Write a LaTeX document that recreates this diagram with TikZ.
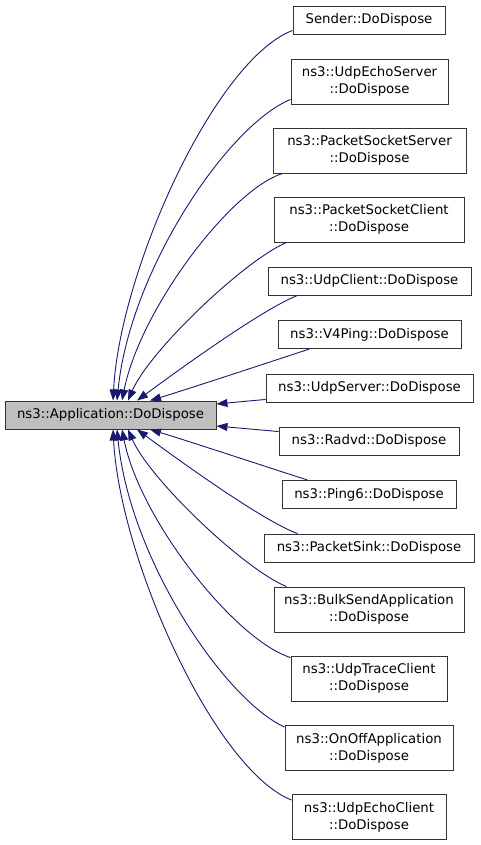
\documentclass[tikz,border=0pt]{standalone}
\usepackage{fontspec}
\setmainfont{DejaVu Sans}
\usetikzlibrary{arrows.meta}
\definecolor{edgeblue}{RGB}{25,25,112}
\definecolor{boxgray}{RGB}{191,191,191}

\begin{document}
\begin{tikzpicture}[x=1pt, y=-1pt,
  fn/.style={draw=black!80, line width=0.9pt, fill=white, inner sep=0pt, align=center, font=\fontsize{13.3}{17}\selectfont},
  one/.style={fn, minimum height=28pt},
  two/.style={fn, minimum height=45pt},
  edge/.style={draw=edgeblue, line width=0.9pt, -{Triangle[length=11pt, width=8pt]}}]
  \useasboundingbox (0,0) rectangle (480,845);

  %--- called function ---
  \node[one, fill=boxgray, minimum width=211pt] (app) at (110.5,415) {ns3::Application::DoDispose};

  %--- callers ---
  \node[one, minimum width=152pt] (sender) at (369,20) {Sender::DoDispose};
  \node[two, minimum width=157pt] (udpechoserver) at (369.5,81.5) {ns3::UdpEchoServer\\::DoDispose};
  \node[two, minimum width=193pt] (pss) at (369.5,150.5) {ns3::PacketSocketServer\\::DoDispose};
  \node[two, minimum width=190pt] (psc) at (369,219.5) {ns3::PacketSocketClient\\::DoDispose};
  \node[one, minimum width=203pt] (udpclient) at (369.5,281) {ns3::UdpClient::DoDispose};
  \node[one, minimum width=183pt] (v4ping) at (369.5,334.5) {ns3::V4Ping::DoDispose};
  \node[one, minimum width=207pt] (udpserver) at (369.5,388) {ns3::UdpServer::DoDispose};
  \node[one, minimum width=180pt] (radvd) at (369,441) {ns3::Radvd::DoDispose};
  \node[one, minimum width=174pt] (ping6) at (369,494.5) {ns3::Ping6::DoDispose};
  \node[one, minimum width=210pt] (packetsink) at (369,548) {ns3::PacketSink::DoDispose};
  \node[two, minimum width=190pt] (bulksend) at (369,609.5) {ns3::BulkSendApplication\\::DoDispose};
  \node[two, minimum width=156pt] (udptrace) at (369,678.5) {ns3::UdpTraceClient\\::DoDispose};
  \node[two, minimum width=168pt] (onoff) at (369,748) {ns3::OnOffApplication\\::DoDispose};
  \node[two, minimum width=154pt] (udpechoclient) at (369,817) {ns3::UdpEchoClient\\::DoDispose};

  %--- call edges ---
  \draw[edge] ([yshift=4pt]sender.south west) .. controls (215,60) and (120,270) .. ([xshift=2.5pt]app.north);
  \draw[edge] ([yshift=5pt]udpechoserver.south west) .. controls (228,125) and (130,270) .. ([xshift=6.5pt]app.north);
  \draw[edge] ([xshift=10pt]pss.south west) .. controls (230,190) and (140,310) .. ([xshift=11.5pt]app.north);
  \draw[edge] ([xshift=13pt]psc.south west) .. controls (245,260) and (150,350) .. ([xshift=17.5pt]app.north);
  \draw[edge] ([xshift=30pt]udpclient.south west) .. controls (260,310) and (165,380) .. ([xshift=26.5pt]app.north);
  \draw[edge] ([xshift=32pt]v4ping.south west) .. controls (270,362) and (185,390) .. ([xshift=39.5pt]app.north);
  \draw[edge] ([yshift=3pt]udpserver.south west) -- ([yshift=11pt]app.east);
  \draw[edge] ([yshift=-5pt]radvd.north west) -- ([yshift=-11pt]app.east);
  \draw[edge] ([xshift=26pt]ping6.north west) .. controls (270,468) and (185,440) .. ([xshift=39.5pt]app.south);
  \draw[edge] ([xshift=34pt]packetsink.north west) .. controls (260,520) and (165,450) .. ([xshift=26.5pt]app.south);
  \draw[edge] ([xshift=13pt]bulksend.north west) .. controls (245,570) and (150,480) .. ([xshift=17.5pt]app.south);
  \draw[edge] ([yshift=-2pt]udptrace.north west) .. controls (235,640) and (140,520) .. ([xshift=11.5pt]app.south);
  \draw[edge] ([yshift=-2pt]onoff.north west) .. controls (225,700) and (130,560) .. ([xshift=6.5pt]app.south);
  \draw[edge] ([yshift=-6pt]udpechoclient.north west) .. controls (215,770) and (120,560) .. ([xshift=2.5pt]app.south);
\end{tikzpicture}
\end{document}
